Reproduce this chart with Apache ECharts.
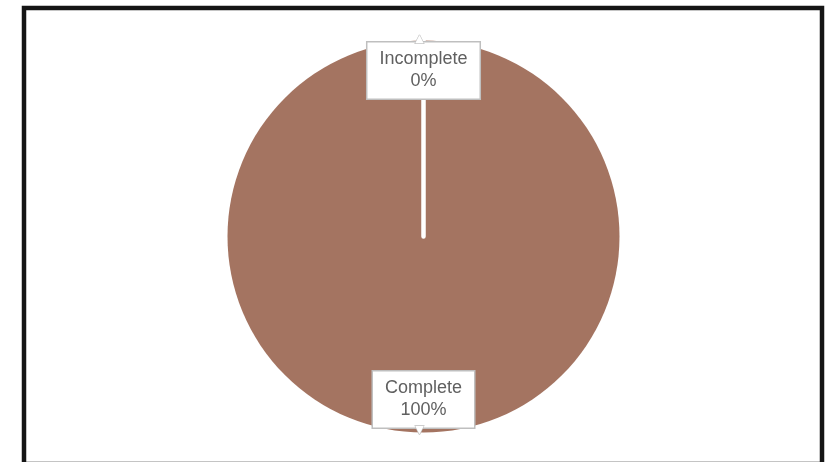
<!DOCTYPE html>
<html>
<head>
<meta charset="utf-8">
<script src="https://cdn.jsdelivr.net/npm/echarts@6/dist/echarts.min.js"></script>
<style>
  html, body { margin: 0; padding: 0; background: #fff; }
  #chart { width: 836px; height: 462px; }
</style>
</head>
<body>
<div id="chart"></div>
<script>
// Task status breakdown
const categories = ['Complete', 'Incomplete'];
const values = [100, 0];

const SLICE_COLOR = '#a47461';
const CENTER = [423.5, 236.5];
const RADIUS = 196;
const BOX_BORDER = '#bfbfbf';

const chart = echarts.init(document.getElementById('chart'), null, { renderer: 'canvas' });

const data = categories.map((name, i) => ({
  name: name,
  value: values[i],
  // the empty slice shows up as a white seam running from the centre to the rim
  itemStyle: values[i] === 0
    ? { color: '#ffffff', borderColor: '#ffffff', borderWidth: 4.5 }
    : { color: SLICE_COLOR, borderWidth: 0 }
}));

// same slices, invisible, only used to hang the small callout pointers
const pointerData = categories.map((name, i) => ({ name: name, value: values[i] }));

const isAbove = p => p.labelRect.y + p.labelRect.height / 2 < CENTER[1];

chart.setOption({
  animation: false,
  backgroundColor: '#ffffff',
  graphic: [{
    type: 'rect',
    shape: { x: 24, y: 8, width: 798, height: 456 },
    style: { fill: 'none', stroke: '#151515', lineWidth: 4.5 },
    silent: true,
    z: 100
  }],
  series: [{
    type: 'pie',
    center: CENTER,
    radius: RADIUS,
    startAngle: 90,
    clockwise: true,
    data: data,
    label: {
      show: true,
      position: 'inside',
      formatter: '{b}\n{d}%',
      fontFamily: '"Liberation Sans", Arial, Helvetica, sans-serif',
      fontSize: 18,
      lineHeight: 22,
      color: '#606060',
      backgroundColor: '#ffffff',
      borderColor: BOX_BORDER,
      borderWidth: 1.5,
      padding: [6, 12, 6, 12],
      align: 'center',
      verticalAlign: 'middle'
    },
    // push the callouts from mid-radius out towards the rim
    labelLayout: function (p) {
      return { dy: isAbove(p) ? -65 : 62 };
    },
    labelLine: { show: false },
    emphasis: { disabled: true }
  }, {
    type: 'pie',
    center: CENTER,
    radius: RADIUS,
    startAngle: 90,
    clockwise: true,
    silent: true,
    data: pointerData,
    itemStyle: { color: 'rgba(0,0,0,0)', borderWidth: 0 },
    label: {
      show: true,
      position: 'inside',
      formatter: function (p) { return p.dataIndex === 1 ? '\u25B2' : '\u25BC'; },
      fontFamily: '"DejaVu Sans", sans-serif',
      fontSize: 11,
      color: '#ffffff',
      textBorderColor: BOX_BORDER,
      textBorderWidth: 1.2,
      align: 'center',
      verticalAlign: 'middle'
    },
    labelLayout: function (p) {
      return isAbove(p) ? { dy: -96, dx: -4 } : { dy: 93, dx: -4 };
    },
    labelLine: { show: false },
    emphasis: { disabled: true }
  }]
});
</script>
</body>
</html>
